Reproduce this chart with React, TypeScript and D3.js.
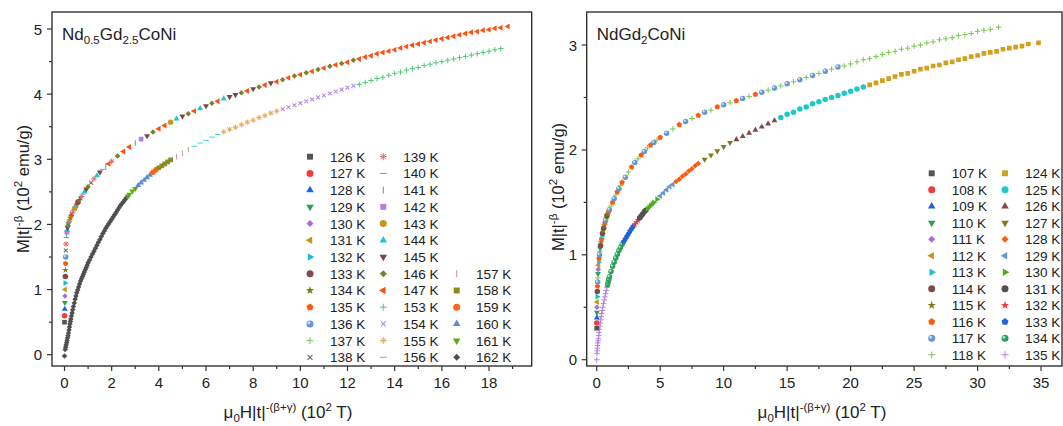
import React from "react";
import * as d3 from "d3";

// ---------- Nd0.5Gd2.5CoNi (left panel) ----------
// T < Tc : upper branch
const leftBelowTemps = [126, 127, 128, 129, 130, 131, 132, 133, 134, 135, 136, 137, 138, 139, 140, 141, 142, 143, 144, 145, 146, 147];
// last x reached by each isotherm
const leftBelowEnds = [0.05, 0.1, 0.15, 0.22, 0.3, 0.4, 0.5, 0.65, 0.8, 1.0, 1.25, 1.5, 1.8, 2.2, 2.7, 3.3, 4.0, 5.6, 7.0, 8.9, 12.4, 18.8];
const leftBelowCurve = [
  [0, 0.5], [0.005, 0.6], [0.01, 0.7], [0.015, 0.8], [0.02, 0.9], [0.025, 1.0], [0.03, 1.1], [0.035, 1.2], [0.04, 1.3],
  [0.045, 1.4], [0.05, 1.5], [0.055, 1.6], [0.065, 1.7], [0.08, 1.8], [0.09, 1.84], [0.1, 1.88], [0.115, 1.915], [0.13, 1.95],
  [0.15, 1.98], [0.17, 2.01], [0.195, 2.04], [0.22, 2.07], [0.25, 2.1], [0.28, 2.13], [0.315, 2.16], [0.35, 2.19], [0.39, 2.22],
  [0.43, 2.25], [0.475, 2.28], [0.52, 2.31], [0.57, 2.34], [0.62, 2.37], [0.675, 2.4], [0.73, 2.43], [0.79, 2.465], [0.85, 2.5],
  [0.925, 2.54], [1.0, 2.58], [1.125, 2.64], [1.25, 2.7], [1.375, 2.75], [1.5, 2.8], [1.625, 2.845], [1.75, 2.89], [1.875, 2.93],
  [2.0, 2.97], [2.25, 3.05], [2.5, 3.12], [2.75, 3.19], [3.0, 3.25], [3.25, 3.31], [3.5, 3.36],
  [3.75, 3.42], [4.0, 3.47], [4.25, 3.52], [4.5, 3.57], [4.75, 3.62], [5.0, 3.66], [5.25, 3.7], [5.5, 3.74], [5.75, 3.78],
  [6.0, 3.82], [6.25, 3.86], [6.5, 3.89], [6.75, 3.93], [7.0, 3.96], [7.25, 3.99], [7.5, 4.02], [7.75, 4.05], [8.0, 4.08],
  [8.25, 4.11], [8.5, 4.14], [8.75, 4.17], [9.0, 4.19], [9.25, 4.22], [9.5, 4.25], [9.75, 4.28], [10.0, 4.3], [10.25, 4.33],
  [10.5, 4.35], [10.75, 4.38], [11.0, 4.4], [11.25, 4.43], [11.5, 4.45], [11.75, 4.47], [12.0, 4.49], [12.25, 4.52],
  [12.5, 4.54], [12.75, 4.57], [13.0, 4.59], [13.25, 4.62], [13.5, 4.64], [13.75, 4.66], [14.0, 4.68], [14.25, 4.71],
  [14.5, 4.73], [14.75, 4.75], [15.0, 4.77], [15.25, 4.79], [15.5, 4.81], [15.75, 4.83], [16.0, 4.85], [16.25, 4.87],
  [16.5, 4.89], [16.75, 4.91], [17.0, 4.93], [17.25, 4.95], [17.5, 4.96], [17.75, 4.98], [18.0, 4.99], [18.25, 5.01],
  [18.5, 5.02], [18.8, 5.04],
];
// T > Tc : lower branch
const leftAboveTemps = [153, 154, 155, 156, 157, 158, 159, 160, 161, 162];
const leftAboveEnds = [18.5, 12.25, 9.0, 6.5, 5.3, 4.55, 3.91, 3.63, 3.06, 2.64];
const leftAboveCurve = [
  [0, -0.02], [0.03, 0.08], [0.05, 0.115], [0.07, 0.15], [0.09, 0.185], [0.11, 0.22], [0.13, 0.255], [0.15, 0.29],
  [0.17, 0.335], [0.19, 0.38], [0.21, 0.425], [0.23, 0.47], [0.25, 0.51], [0.27, 0.55], [0.295, 0.595], [0.32, 0.64],
  [0.35, 0.69], [0.38, 0.74], [0.415, 0.795], [0.45, 0.85], [0.485, 0.9], [0.52, 0.95], [0.56, 0.995], [0.6, 1.04],
  [0.64, 1.085], [0.68, 1.13], [0.72, 1.165], [0.76, 1.2], [0.8, 1.235], [0.84, 1.27], [0.88, 1.305], [0.92, 1.34],
  [0.96, 1.375], [1.0, 1.41], [1.0625, 1.455], [1.125, 1.5], [1.1875, 1.545], [1.25, 1.59], [1.3125, 1.635], [1.375, 1.68],
  [1.4375, 1.725], [1.5, 1.77], [1.5625, 1.815], [1.625, 1.86], [1.6875, 1.9], [1.75, 1.94], [1.8125, 1.975], [1.875, 2.01],
  [1.9375, 2.045], [2.0, 2.08], [2.0625, 2.115], [2.125, 2.15], [2.1875, 2.185], [2.25, 2.22], [2.3125, 2.255], [2.375, 2.29],
  [2.4375, 2.32], [2.5, 2.35], [2.5625, 2.38], [2.625, 2.41], [2.6875, 2.435], [2.75, 2.46], [2.875, 2.51], [3.0, 2.55],
  [3.125, 2.6], [3.25, 2.64], [3.375, 2.68], [3.5, 2.72], [3.625, 2.76], [3.75, 2.8], [3.875, 2.84], [4.0, 2.87],
  [4.125, 2.9], [4.25, 2.93], [4.375, 2.96], [4.5, 2.99], [4.75, 3.04], [5.0, 3.09], [5.25, 3.15], [5.5, 3.2], [5.75, 3.25],
  [6.0, 3.29], [6.25, 3.34], [6.5, 3.38], [6.75, 3.42], [7.0, 3.46], [7.25, 3.49], [7.5, 3.53], [7.75, 3.57], [8.0, 3.6],
  [8.25, 3.64], [8.5, 3.67], [8.75, 3.71], [9.0, 3.74], [9.25, 3.77], [9.5, 3.8], [9.75, 3.83], [10.0, 3.86], [10.25, 3.89],
  [10.5, 3.92], [10.75, 3.95], [11.0, 3.98], [11.25, 4.01], [11.5, 4.04], [11.75, 4.07], [12.0, 4.1], [12.25, 4.13],
  [12.5, 4.15], [12.75, 4.18], [13.0, 4.21], [13.25, 4.24], [13.5, 4.26], [13.75, 4.29], [14.0, 4.32], [14.25, 4.34],
  [14.5, 4.37], [14.75, 4.39], [15.0, 4.41], [15.25, 4.44], [15.5, 4.46], [15.75, 4.48], [16.0, 4.5], [16.25, 4.52],
  [16.5, 4.54], [16.75, 4.56], [17.0, 4.58], [17.25, 4.6], [17.5, 4.62], [17.75, 4.64], [18.0, 4.66], [18.25, 4.68], [18.5, 4.7],
];
const leftXTicks = [0, 2, 4, 6, 8, 10, 12, 14, 16, 18];
const leftXMinor = [1, 3, 5, 7, 9, 11, 13, 15, 17, 19];
const leftYTicks = [0, 1, 2, 3, 4, 5];
const leftYMinor = [0.5, 1.5, 2.5, 3.5, 4.5];

// ---------- NdGd2CoNi (right panel) ----------
const rightBelowTemps = [107, 108, 109, 110, 111, 112, 113, 114, 115, 116, 117, 118];
const rightBelowEnds = [0.05, 0.1, 0.18, 0.27, 0.38, 0.5, 0.65, 0.85, 1.1, 13.5, 19.7, 31.65];
const rightBelowCurve = [
  [0, 0.3], [0.005, 0.35], [0.01, 0.4], [0.015, 0.45], [0.02, 0.5], [0.03, 0.55], [0.04, 0.6], [0.05, 0.65], [0.06, 0.7],
  [0.075, 0.74], [0.09, 0.78], [0.105, 0.82], [0.12, 0.86], [0.14, 0.9], [0.16, 0.93], [0.185, 0.965], [0.21, 1.0],
  [0.24, 1.03], [0.27, 1.06], [0.305, 1.09], [0.34, 1.12], [0.38, 1.15], [0.42, 1.18], [0.46, 1.205], [0.5, 1.23],
  [0.55, 1.255], [0.6, 1.28], [0.65, 1.305], [0.7, 1.33], [0.75, 1.35], [0.8, 1.37], [0.85, 1.385], [0.9, 1.4], [0.95, 1.415],
  [1.0, 1.43], [1.125, 1.465], [1.25, 1.5], [1.375, 1.535], [1.5, 1.57], [1.625, 1.6], [1.75, 1.63], [1.875, 1.66], [2.0, 1.69],
  [2.25, 1.74], [2.5, 1.79], [2.75, 1.835], [3.0, 1.88], [3.25, 1.915], [3.5, 1.95], [3.75, 1.985], [4.0, 2.02], [4.25, 2.045],
  [4.5, 2.07], [4.75, 2.095], [5.0, 2.12], [5.5, 2.16], [6.0, 2.2], [6.5, 2.24], [7.0, 2.27], [7.5, 2.3], [8.0, 2.33],
  [8.5, 2.36], [9.0, 2.38], [9.5, 2.41], [10.0, 2.43], [10.5, 2.45], [11.0, 2.47], [11.5, 2.49], [12.0, 2.51], [12.5, 2.53],
  [13.0, 2.55], [13.5, 2.57], [14.0, 2.59], [14.5, 2.61], [15.0, 2.63], [15.5, 2.65], [16.0, 2.67], [16.5, 2.69], [17.0, 2.71],
  [17.5, 2.73], [18.0, 2.75], [18.5, 2.77], [19.0, 2.79], [19.5, 2.8], [20.0, 2.82], [20.5, 2.84], [21.0, 2.86], [21.5, 2.87],
  [22.0, 2.89], [22.5, 2.91], [23.0, 2.93], [23.5, 2.94], [24.0, 2.96], [24.5, 2.97], [25.0, 2.99], [25.5, 3.0], [26.0, 3.02],
  [26.5, 3.03], [27.0, 3.05], [27.5, 3.06], [28.0, 3.07], [28.5, 3.09], [29.0, 3.1], [29.5, 3.11], [30.0, 3.13], [30.5, 3.14],
  [31.0, 3.15], [31.65, 3.17],
];
const rightAboveTemps = [124, 125, 126, 127, 128, 129, 130, 131, 132, 133, 134, 135];
const rightAboveEnds = [34.8, 21.1, 14.45, 10.6, 8.1, 6.2, 4.8, 3.9, 3.3, 2.9, 2.0, 0.8];
const rightAboveCurve = [
  [0, 0], [0.02, 0.06], [0.035, 0.085], [0.05, 0.11], [0.07, 0.135], [0.09, 0.16], [0.11, 0.18], [0.13, 0.2], [0.16, 0.23],
  [0.19, 0.26], [0.22, 0.29], [0.25, 0.32], [0.285, 0.35], [0.32, 0.38], [0.355, 0.41], [0.39, 0.44], [0.435, 0.47],
  [0.48, 0.5], [0.54, 0.535], [0.6, 0.57], [0.65, 0.6], [0.7, 0.63], [0.75, 0.66], [0.8, 0.69], [0.85, 0.715], [0.9, 0.74],
  [0.95, 0.765], [1.0, 0.79], [1.125, 0.84], [1.25, 0.89], [1.375, 0.93], [1.5, 0.97], [1.625, 1.005], [1.75, 1.04],
  [1.875, 1.07], [2.0, 1.1], [2.125, 1.125], [2.25, 1.15], [2.375, 1.175], [2.5, 1.2], [2.625, 1.225], [2.75, 1.25],
  [2.875, 1.27], [3.0, 1.29], [3.125, 1.31], [3.25, 1.33], [3.375, 1.35], [3.5, 1.37], [3.625, 1.39], [3.75, 1.41],
  [3.875, 1.425], [4.0, 1.44], [4.125, 1.455], [4.25, 1.47], [4.375, 1.485], [4.5, 1.5], [4.75, 1.53], [5.0, 1.56],
  [5.25, 1.59], [5.5, 1.62], [5.75, 1.65], [6.0, 1.67], [6.25, 1.7], [6.5, 1.72], [6.75, 1.75], [7.0, 1.77], [7.25, 1.8],
  [7.5, 1.82], [7.75, 1.85], [8.0, 1.87], [8.5, 1.91], [9.0, 1.95], [9.5, 1.99], [10.0, 2.03], [10.5, 2.07], [11.0, 2.1],
  [11.5, 2.13], [12.0, 2.16], [12.5, 2.19], [13.0, 2.22], [13.5, 2.25], [14.0, 2.28], [14.5, 2.31], [15.0, 2.34], [15.5, 2.36],
  [16.0, 2.39], [16.5, 2.41], [17.0, 2.44], [17.5, 2.46], [18.0, 2.48], [18.5, 2.5], [19.0, 2.52], [19.5, 2.54], [20.0, 2.56],
  [20.5, 2.58], [21.0, 2.6], [21.5, 2.62], [22.0, 2.64], [22.5, 2.66], [23.0, 2.68], [23.5, 2.7], [24.0, 2.72], [24.5, 2.73],
  [25.0, 2.75], [25.5, 2.77], [26.0, 2.78], [26.5, 2.8], [27.0, 2.81], [27.5, 2.83], [28.0, 2.84], [28.5, 2.86], [29.0, 2.87],
  [29.5, 2.89], [30.0, 2.9], [30.5, 2.92], [31.0, 2.93], [31.5, 2.94], [32.0, 2.96], [32.5, 2.97], [33.0, 2.98], [33.5, 2.99],
  [34.0, 3.01], [34.8, 3.02],
];
const rightXTicks = [0, 5, 10, 15, 20, 25, 30, 35];
const rightXMinor = [2.5, 7.5, 12.5, 17.5, 22.5, 27.5, 32.5];
const rightYTicks = [0, 1, 2, 3];
const rightYMinor = [0.5, 1.5, 2.5];

// ---------- marker styles (symbol, colour) ----------
const leftBelowSyms = ["square", "circle", "up", "down", "diamond", "left", "right", "circle", "star", "pent", "sphere", "plus", "x", "ast", "hbar", "vbar", "square", "circle", "up", "down", "diamond", "left"];
const leftBelowColors = ["#555555", "#f03c3c", "#1e64dc", "#2ca05a", "#a86edc", "#c8961e", "#1ebed2", "#7d4b4b", "#7d7d19", "#ff5a0a", "#6496d2", "#78c850", "#646464", "#f06464", "#6496e6", "#3cb45a", "#b47ee6", "#c8961e", "#1ec8c8", "#784646", "#7d821e", "#ff5014"];
const leftAboveSyms = ["plus", "x", "ast", "hbar", "vbar", "square", "circle", "up", "down", "diamond"];
const leftAboveColors = ["#50c878", "#b482e6", "#e6aa5a", "#3cd2d2", "#c89696", "#8c8c1e", "#ff6414", "#5a8cd2", "#5aaa0a", "#505050"];
const rightBelowSyms = ["square", "circle", "up", "down", "diamond", "left", "right", "circle", "star", "pent", "sphere", "plus"];
const rightBelowColors = ["#555555", "#f03c3c", "#1e64dc", "#2ca05a", "#a86edc", "#c8961e", "#1ebed2", "#7d4b4b", "#7d7d19", "#ff5a0a", "#6496d2", "#78c850"];
const rightAboveSyms = ["square", "circle", "up", "down", "diamond", "left", "right", "circle", "star", "pent", "sphere", "plus"];
const rightAboveColors = ["#d2a01e", "#1ec8c8", "#7d4b4b", "#7d7d19", "#ff5a0a", "#6496d2", "#50aa1e", "#505050", "#f03c3c", "#1e64dc", "#2ca05a", "#b482e6"];

const FONT = "'Liberation Sans', Arial, sans-serif";
const INK = "#222";
const SPHERES = ["#6496d2", "#2ca05a"];

function poly(n: number, r: number): string {
  const pts = d3.range(n).map((i) => {
    const a = -Math.PI / 2 + (i * 2 * Math.PI) / n;
    return `${(r * Math.cos(a)).toFixed(2)},${(r * Math.sin(a)).toFixed(2)}`;
  });
  return "M" + pts.join("L") + "Z";
}

function Marker({ sym, color, x, y, s }: { sym: string; color: string; x: number; y: number; s: number }) {
  const r = s / 2;
  let d = "";
  let rot = 0;
  let filled = true;
  switch (sym) {
    case "square": d = d3.symbol(d3.symbolSquare, s * s * 0.72)() as string; break;
    case "circle": d = d3.symbol(d3.symbolCircle, Math.PI * r * r)() as string; break;
    case "sphere": d = d3.symbol(d3.symbolCircle, Math.PI * r * r)() as string; break;
    case "up": d = d3.symbol(d3.symbolTriangle, s * s * 0.5)() as string; break;
    case "down": d = d3.symbol(d3.symbolTriangle, s * s * 0.5)() as string; rot = 180; break;
    case "left": d = d3.symbol(d3.symbolTriangle, s * s * 0.5)() as string; rot = -90; break;
    case "right": d = d3.symbol(d3.symbolTriangle, s * s * 0.5)() as string; rot = 90; break;
    case "diamond": d = d3.symbol(d3.symbolSquare, s * s * 0.5)() as string; rot = 45; break;
    case "star": d = d3.symbol(d3.symbolStar, s * s * 0.45)() as string; break;
    case "pent": d = poly(5, r * 1.05); break;
    case "plus": d = `M${-r},0H${r}M0,${-r}V${r}`; filled = false; break;
    case "x": d = `M${-r},0H${r}M0,${-r}V${r}`; rot = 45; filled = false; break;
    case "ast": {
      const q = r * 0.72;
      d = `M${-r},0H${r}M0,${-r}V${r}M${-q},${-q}L${q},${q}M${-q},${q}L${q},${-q}`;
      filled = false;
      break;
    }
    case "hbar": d = `M${-r},0H${r}`; filled = false; break;
    case "vbar": d = `M0,${-r}V${r}`; filled = false; break;
  }
  const fill = sym === "sphere" ? `url(#sph${color.slice(1)})` : filled ? color : "none";
  return (
    <path
      d={d}
      transform={`translate(${x.toFixed(2)},${y.toFixed(2)})${rot ? ` rotate(${rot})` : ""}`}
      fill={fill}
      stroke={filled ? "none" : color}
      strokeWidth={filled ? 0 : 1}
    />
  );
}

type Branch = { temps: number[]; ends: number[]; curve: number[][]; syms: string[]; colors: string[]; mix: boolean };

// pick, for every point on the scaled curve, which isotherm's marker is on top
function branchPoints(b: Branch) {
  return b.curve.map(([x, y], i) => {
    const cov = b.ends.map((e, j) => (e >= x - 1e-6 ? j : -1)).filter((j) => j >= 0);
    const k = b.mix ? cov[i % cov.length] : cov[cov.length - 1];
    return { x, y, k };
  });
}

type LegendCol = { items: { sym: string; color: string; label: string }[]; row0: number; mx: number; tx: number };

type PanelProps = {
  box: { x0: number; x1: number; y0: number; y1: number };
  xDomain: [number, number];
  yDomain: [number, number];
  xTicks: number[];
  xMinor: number[];
  yTicks: number[];
  yMinor: number[];
  yLabelEnd: number;
  branches: Branch[];
  legend: LegendCol[];
  legendTop: number;
  legendStep: number;
  title: React.ReactNode;
  xLabelX: number;
  yLabelX: number;
  yLabelY: number;
  clipId: string;
};

function Panel(p: PanelProps) {
  const { box } = p;
  const x = d3.scaleLinear().domain(p.xDomain).range([box.x0, box.x1]);
  const y = d3.scaleLinear().domain(p.yDomain).range([box.y1, box.y0]);
  return (
    <g>
      <defs>
        <clipPath id={p.clipId}>
          <rect x={box.x0} y={box.y0} width={box.x1 - box.x0} height={box.y1 - box.y0} />
        </clipPath>
      </defs>
      <g clipPath={`url(#${p.clipId})`}>
        {p.branches.map((b, bi) =>
          branchPoints(b).map((pt, i) => (
            <Marker key={`${bi}-${i}`} sym={b.syms[pt.k]} color={b.colors[pt.k]} x={x(pt.x)} y={y(pt.y)} s={5.5} />
          ))
        )}
      </g>
      <rect x={box.x0} y={box.y0} width={box.x1 - box.x0} height={box.y1 - box.y0} fill="none" stroke="#333" strokeWidth={1.4} />
      {/* x axis */}
      {p.xTicks.map((t) => (
        <g key={`xt${t}`}>
          <line x1={x(t)} x2={x(t)} y1={box.y1} y2={box.y1 + 5} stroke="#333" strokeWidth={1.2} />
          <text x={x(t)} y={box.y1 + 22} textAnchor="middle" fontSize={15} fill={INK} fontFamily={FONT}>{t}</text>
        </g>
      ))}
      {p.xMinor.map((t) => (
        <line key={`xm${t}`} x1={x(t)} x2={x(t)} y1={box.y1} y2={box.y1 + 3} stroke="#333" strokeWidth={1.2} />
      ))}
      {/* y axis */}
      {p.yTicks.map((t) => (
        <g key={`yt${t}`}>
          <line x1={box.x0 - 5} x2={box.x0} y1={y(t)} y2={y(t)} stroke="#333" strokeWidth={1.2} />
          <text x={p.yLabelEnd} y={y(t) + 5.5} textAnchor="end" fontSize={15} fill={INK} fontFamily={FONT}>{t}</text>
        </g>
      ))}
      {p.yMinor.map((t) => (
        <line key={`ym${t}`} x1={box.x0 - 3} x2={box.x0} y1={y(t)} y2={y(t)} stroke="#333" strokeWidth={1.2} />
      ))}
      {/* legend */}
      {p.legend.map((col, ci) =>
        col.items.map((it, ri) => {
          const yy = p.legendTop + (col.row0 + ri) * p.legendStep;
          return (
            <g key={`lg${ci}-${ri}`}>
              <Marker sym={it.sym} color={it.color} x={col.mx} y={yy} s={7} />
              <text x={col.tx} y={yy + 5} fontSize={13.5} fill={INK} fontFamily={FONT}>{it.label}</text>
            </g>
          );
        })
      )}
      {p.title}
      {/* axis titles */}
      <text x={p.xLabelX} y={418} textAnchor="middle" fontSize={17} fill={INK} fontFamily={FONT}>
        μ<tspan dy={4} fontSize={11.5}>0</tspan>
        <tspan dy={-4}>H|t|</tspan>
        <tspan dy={-7} fontSize={11.5}>-(β+γ)</tspan>
        <tspan dy={7}> (10</tspan>
        <tspan dy={-7} fontSize={11.5}>2</tspan>
        <tspan dy={7}> T)</tspan>
      </text>
      <text
        transform={`translate(${p.yLabelX},${p.yLabelY}) rotate(-90)`}
        textAnchor="middle"
        fontSize={16.5}
        fill={INK}
        fontFamily={FONT}
      >
        M|t|<tspan dy={-7} fontSize={11.5}>-β</tspan>
        <tspan dy={7}> (10</tspan>
        <tspan dy={-7} fontSize={11.5}>2</tspan>
        <tspan dy={7}> emu/g)</tspan>
      </text>
    </g>
  );
}

function items(temps: number[], syms: string[], colors: string[], from: number, to: number) {
  return temps.slice(from, to).map((t, i) => ({ sym: syms[from + i], color: colors[from + i], label: `${t} K` }));
}

export default function App() {
  const leftBranches: Branch[] = [
    { temps: leftAboveTemps, ends: leftAboveEnds, curve: leftAboveCurve, syms: leftAboveSyms, colors: leftAboveColors, mix: false },
    { temps: leftBelowTemps, ends: leftBelowEnds, curve: leftBelowCurve, syms: leftBelowSyms, colors: leftBelowColors, mix: true },
  ];
  const rightBranches: Branch[] = [
    { temps: rightAboveTemps, ends: rightAboveEnds, curve: rightAboveCurve, syms: rightAboveSyms, colors: rightAboveColors, mix: false },
    { temps: rightBelowTemps, ends: rightBelowEnds, curve: rightBelowCurve, syms: rightBelowSyms, colors: rightBelowColors, mix: true },
  ];

  const leftLegend: LegendCol[] = [
    { items: items(leftBelowTemps, leftBelowSyms, leftBelowColors, 0, 13), row0: 0, mx: 310, tx: 330 },
    {
      items: [
        ...items(leftBelowTemps, leftBelowSyms, leftBelowColors, 13, 22),
        ...items(leftAboveTemps, leftAboveSyms, leftAboveColors, 0, 4),
      ],
      row0: 0,
      mx: 383.3,
      tx: 403.3,
    },
    { items: items(leftAboveTemps, leftAboveSyms, leftAboveColors, 4, 10), row0: 7, mx: 456.7, tx: 476 },
  ];
  const rightLegend: LegendCol[] = [
    { items: items(rightBelowTemps, rightBelowSyms, rightBelowColors, 0, 12), row0: 0, mx: 931.7, tx: 951.7 },
    { items: items(rightAboveTemps, rightAboveSyms, rightAboveColors, 0, 12), row0: 0, mx: 1005, tx: 1025 },
  ];

  return (
    <svg width={1063} height={426} style={{ position: "absolute", left: 0, top: 0, background: "#fff" }}>
      <defs>
        {SPHERES.map((c) => (
          <radialGradient key={c} id={`sph${c.slice(1)}`} cx="35%" cy="35%" r="65%">
            <stop offset="0%" stopColor="#ffffff" />
            <stop offset="45%" stopColor={c} />
            <stop offset="100%" stopColor={c} />
          </radialGradient>
        ))}
      </defs>
      <Panel
        box={{ x0: 52, x1: 531.7, y0: 12, y1: 366 }}
        xDomain={[-0.53, 19.81]}
        yDomain={[-0.173, 5.261]}
        xTicks={leftXTicks}
        xMinor={leftXMinor}
        yTicks={leftYTicks}
        yMinor={leftYMinor}
        yLabelEnd={42}
        branches={leftBranches}
        legend={leftLegend}
        legendTop={156.7}
        legendStep={16.72}
        clipId="clipL"
        xLabelX={288}
        yLabelX={29}
        yLabelY={189}
        title={
          <text x={62} y={40} fontSize={17} fill={INK} fontFamily={FONT}>
            Nd<tspan dy={4} fontSize={11.5}>0.5</tspan>
            <tspan dy={-4}>Gd</tspan>
            <tspan dy={4} fontSize={11.5}>2.5</tspan>
            <tspan dy={-4}>CoNi</tspan>
          </text>
        }
      />
      <Panel
        box={{ x0: 586.7, x1: 1062, y0: 12, y1: 366 }}
        xDomain={[-0.788, 36.65]}
        yDomain={[-0.06, 3.315]}
        xTicks={rightXTicks}
        xMinor={rightXMinor}
        yTicks={rightYTicks}
        yMinor={rightYMinor}
        yLabelEnd={577}
        branches={rightBranches}
        legend={rightLegend}
        legendTop={173.3}
        legendStep={16.5}
        clipId="clipR"
        xLabelX={822}
        yLabelX={564}
        yLabelY={187}
        title={
          <text x={596.7} y={40} fontSize={17} fill={INK} fontFamily={FONT}>
            NdGd<tspan dy={4} fontSize={11.5}>2</tspan>
            <tspan dy={-4}>CoNi</tspan>
          </text>
        }
      />
    </svg>
  );
}
